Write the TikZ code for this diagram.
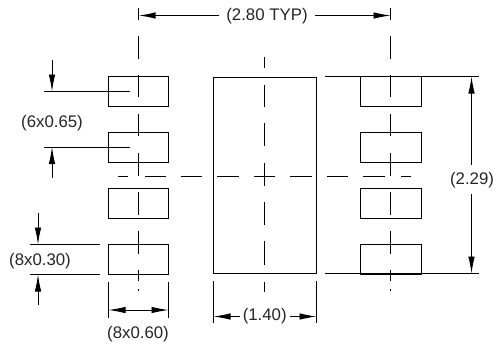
\documentclass[tikz,border=0pt]{standalone}
\usepackage{fontspec}
\setmainfont{Liberation Sans}
\usetikzlibrary{arrows.meta}
\tikzset{
  x=1pt,y=-1pt,
  pad/.style={draw=black,line width=1pt,minimum width=60pt,minimum height=30pt,inner sep=0pt,outer sep=0pt},
  padr/.style={pad,minimum width=61pt},
  body/.style={draw=black,line width=1pt,minimum width=103pt,minimum height=196pt,inner sep=0pt,outer sep=0pt},
  thinline/.style={line width=0.9pt},
  dim/.style={line width=0.9pt,-{Latex[length=17pt,width=6.5pt]}},
  label/.style={font=\fontsize{16.8}{18}\selectfont,inner sep=0pt,text=black!85},
}
\begin{document}
\begin{tikzpicture}
\useasboundingbox (0,0) rectangle (494,343);
\fill[white] (0,0) rectangle (494,343);
% pads and body
\node[pad] (L1) at (138.5,91.5) {};
\node[pad] (L2) at (138.5,147.5) {};
\node[pad] (L3) at (138.5,203.5) {};
\node[pad] (L4) at (138.5,259.5) {};
\node[padr] (R1) at (391,91.5) {};
\node[padr] (R2) at (391,147.5) {};
\node[padr] (R3) at (391,203.5) {};
\node[padr] (R4) at (391,259.5) {};
\node[body] (B) at (265,175.5) {};
% labels
\node[label] (t280) at (267,16.5) {(2.80 TYP)};
\node[label] (t665) at (52,123) {(6x0.65)};
\node[label] (t830) at (40,261) {(8x0.30)};
\node[label] (t860) at (138,334) {(8x0.60)};
\node[label] (t140) at (264.7,316.5) {(1.40)};
\node[label] (t229) at (472,180) {(2.29)};
% centre lines
\foreach \x in {138.5,390.5}{
  \foreach \p/\q in {8/20,36/59,75/97,114/136,153/176,192/215,231/254,270/281,289/291}{
    \draw[thinline] (\x,\p) -- (\x,\q);
  }
}
\foreach \p/\q in {57/68,85/107,123/146,163/186,202/225,241/265,282/292}{
  \draw[thinline] (264.5,\p) -- (264.5,\q);
}
\foreach \p/\q in {118/128,145/166,181/202,217/239,254/275,290/312,327/348,363/385,401/411}{
  \draw[thinline] (\p,176.5) -- (\q,176.5);
}
% extension lines
\coordinate (e1a) at (325,76.5); \coordinate (e1b) at (479,76.5);
\coordinate (e2a) at (325,273.5); \coordinate (e2b) at (479,273.5);
\draw[thinline] (e1a) -- (e1b);
\draw[thinline] (e2a) -- (e2b);
\coordinate (e3a) at (44,91.5); \coordinate (e3b) at (130,91.5);
\coordinate (e4a) at (44,147); \coordinate (e4b) at (130,147);
\draw[thinline] (e3a) -- (e3b);
\draw[thinline] (e4a) -- (e4b);
\coordinate (e5a) at (30,244.5); \coordinate (e5b) at (100,244.5);
\coordinate (e6a) at (30,274.5); \coordinate (e6b) at (100,274.5);
\draw[thinline] (e5a) -- (e5b);
\draw[thinline] (e6a) -- (e6b);
\coordinate (e7a) at (108.5,282); \coordinate (e7b) at (108.5,318);
\coordinate (e8a) at (168.5,282); \coordinate (e8b) at (168.5,318);
\draw[thinline] (e7a) -- (e7b);
\draw[thinline] (e8a) -- (e8b);
\coordinate (e9a) at (213.5,281); \coordinate (e9b) at (213.5,323);
\coordinate (e10a) at (316.5,281); \coordinate (e10b) at (316.5,323);
\draw[thinline] (e9a) -- (e9b);
\draw[thinline] (e10a) -- (e10b);
% dimension arrows
\coordinate (d1) at (138.5,15.5); \coordinate (d1s) at (219,15.5);
\coordinate (d2) at (390.5,15.5); \coordinate (d2s) at (315,15.5);
\draw[dim,line width=1.3pt] (d1s) -- (d1);
\draw[dim] (d2s) -- (d2);
\coordinate (d3s) at (52,60); \coordinate (d3) at (52,91.5);
\coordinate (d4s) at (52,178); \coordinate (d4) at (52,147);
\draw[dim] (d3s) -- (d3);
\draw[dim] (d4s) -- (d4);
\coordinate (d5s) at (38,213); \coordinate (d5) at (38,244.5);
\coordinate (d6s) at (38,305); \coordinate (d6) at (38,274.5);
\draw[dim] (d5s) -- (d5);
\draw[dim] (d6s) -- (d6);
\coordinate (d7) at (108.5,310); \coordinate (d8) at (168.5,310);
\draw[dim,{Latex[length=17pt,width=6.5pt]}-{Latex[length=17pt,width=6.5pt]}] (d7) -- (d8);
\coordinate (d9s) at (240,316.5); \coordinate (d9) at (213.5,316.5);
\coordinate (d10s) at (290,316.5); \coordinate (d10) at (316.5,316.5);
\draw[dim] (d9s) -- (d9);
\draw[dim] (d10s) -- (d10);
\coordinate (d11s) at (471.5,165); \coordinate (d11) at (471.5,76.5);
\coordinate (d12s) at (471.5,194); \coordinate (d12) at (471.5,273.5);
\draw[dim] (d11s) -- (d11);
\draw[dim] (d12s) -- (d12);
\end{tikzpicture}
\end{document}
